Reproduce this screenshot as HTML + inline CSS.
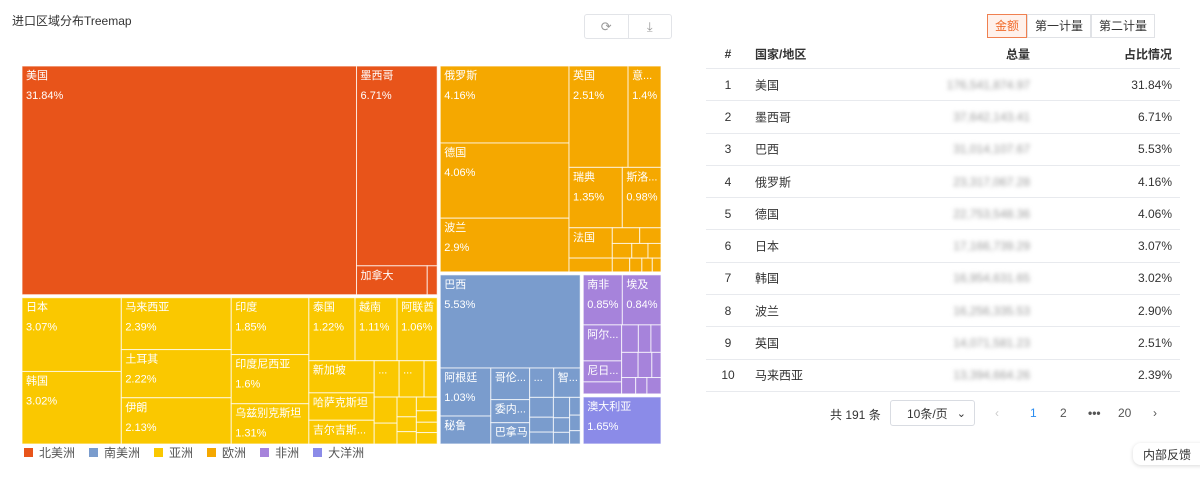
<!DOCTYPE html>
<html><head><meta charset="utf-8">
<style>
*{box-sizing:border-box;margin:0;padding:0}
body{width:1200px;height:479px;background:#fff;font-family:"Liberation Sans","Noto Sans CJK SC",sans-serif;position:relative;overflow:hidden;color:#333}
.abs{position:absolute}
.title{left:12px;top:12px;font-size:12px;color:#333}
.tbtns{left:584px;top:14px;width:88px;height:25px;border:1px solid #e2e4e8;border-radius:3px;display:flex}
.tbtns div{flex:1;display:flex;align-items:center;justify-content:center;color:#999;font-size:13px}
.tbtns div:first-child{border-right:1px solid #e2e4e8}
.legend{left:24px;top:444px;font-size:12px;color:#555;display:flex;gap:0}
.legend span.it{display:flex;align-items:center;margin-right:14px}
.legend i{display:inline-block;width:9px;height:9px;margin-right:6px}
.seg{left:987px;top:14px;height:24px;display:flex;font-size:12px}
.seg div{border:1px solid #e0e2e6;padding:0 7px;line-height:22px;color:#333;background:#fff}
.seg div.on{border-color:#f08050;color:#f06a2a;background:#fff1eb}
.tbl{left:706px;top:40px;width:474px;font-size:12px}
.row{position:relative;height:32.3px;border-bottom:1px solid #e8eaee}
.row span{position:absolute;top:50%;transform:translateY(-50%)}
.c1{left:14px;width:16px;text-align:center}
.c2{left:49px}
.c3{right:150px;color:#999;filter:blur(2px)}
.c4{right:8px}
.hdr{font-weight:bold;height:29px}
.pg{top:402px;left:830px;font-size:12px;color:#333;height:24px;display:flex;align-items:center}
.sel{left:890px;top:400px;width:85px;height:26px;border:1px solid #d9dce2;border-radius:3px;font-size:12px;display:flex;align-items:center;padding-left:16px}
.pnum{top:406px;font-size:12px;color:#555}
.fb{left:1133px;top:443px;width:70px;height:22px;border-radius:8px 0 0 8px;box-shadow:0 1px 4px rgba(0,0,0,.15);font-size:12px;display:flex;align-items:center;padding-left:10px;background:#fff}
</style></head><body>
<div class="abs title">进口区域分布Treemap</div>
<div class="abs tbtns">
 <div>⟳</div>
 <div>⤓</div>
</div>
<svg class="abs" style="left:0;top:0" width="700" height="479" id="tm"></svg>
<div class="abs legend">
 <span class="it"><i style="background:#e8541a"></i>北美洲</span>
 <span class="it"><i style="background:#7a9ccd"></i>南美洲</span>
 <span class="it"><i style="background:#fac800"></i>亚洲</span>
 <span class="it"><i style="background:#f5a800"></i>欧洲</span>
 <span class="it"><i style="background:#a683db"></i>非洲</span>
 <span class="it"><i style="background:#8b8be8"></i>大洋洲</span>
</div>

<div class="abs seg">
 <div class="on">金额</div>
 <div>第一计量</div>
 <div>第二计量</div>
</div>
<div class="abs tbl" id="tbl">
 <div class="row hdr">
  <span class="c1">#</span><span class="c2">国家/地区</span><span style="right:150px">总量</span><span class="c4">占比情况</span>
 </div>
</div>
<div class="abs pg">共 191 条</div>
<div class="abs sel">10条/页<span style="position:absolute;right:8px;font-size:11px">⌄</span></div>
<div class="abs pnum" style="left:995px;color:#ccc">‹</div>
<div class="abs pnum" style="left:1030px;color:#2a8cf0">1</div>
<div class="abs pnum" style="left:1060px">2</div>
<div class="abs pnum" style="left:1088px;font-weight:bold">•••</div>
<div class="abs pnum" style="left:1118px">20</div>
<div class="abs pnum" style="left:1153px">›</div>
<div class="abs fb">内部反馈</div>

<script>
function L(n,v){return {n:n,v:v};}
const northAmerica=[L('美国',31.84),[L('墨西哥',6.71),[L('加拿大',0.85),L('',0.12)]]];
const asia=[[L('日本',3.07),L('韩国',3.02)],[L('马来西亚',2.39),L('土耳其',2.22),L('伊朗',2.13)],[L('印度',1.85),L('印度尼西亚',1.6),L('乌兹别克斯坦',1.31)],
 [[L('泰国',1.22),L('越南',1.11),L('阿联酋',1.06)],[[L('新加坡',0.88),L('哈萨克斯坦',0.75),L('吉尔吉斯斯坦',0.65)],
  [[L('菲律宾',0.38),L('中国',0.38),L('',0.2)],[[L('',0.25),L('',0.2)],[L('',0.16),L('',0.12),L('',0.1)],[L('',0.12),L('',0.1),L('',0.09),L('',0.1)]]]]]];
const europe=[[L('俄罗斯',4.16),L('德国',4.06),L('波兰',2.9)],[[L('英国',2.51),L('意大利',1.4)],[L('瑞典',1.35),L('斯洛伐克',0.98)],
 [[L('法国',0.55),L('',0.25)],[[L('',0.18),L('',0.14)],[L('',0.12),L('',0.1),L('',0.08)],[L('',0.1),L('',0.07),L('',0.06),L('',0.05)]]]]];
const southAmerica=[L('巴西',5.53),[[L('阿根廷',1.03),L('秘鲁',0.6)],[L('哥伦比亚',0.52),L('委内瑞拉',0.38),L('巴拿马',0.35)],
 [[L('厄瓜多尔',0.3),L('智利',0.33)],[[L('',0.2),L('',0.15),L('',0.12)],[L('',0.14),L('',0.1),L('',0.08)],[L('',0.08),L('',0.07),L('',0.06)]]]]];
const africa=[[L('南非',0.85),L('埃及',0.84)],[[L('阿尔及利亚',0.6),L('尼日利亚',0.35),L('',0.2)],[[L('',0.2),L('',0.15),L('',0.12)],[L('',0.18),L('',0.15),L('',0.1)],[L('',0.1),L('',0.08),L('',0.1)]]]];
const oceania=[L('澳大利亚',1.65)];
const regionColors=['#e8541a','#fac800','#f5a800','#7a9ccd','#a683db','#8b8be8'];
const regions=[northAmerica,asia,europe,southAmerica,africa,oceania];
const regionDir=[0,0,0,1,1,1];
// top-level arrangement: [[NA, Asia], [Europe, [SA, [Africa, Oceania]]]]
const root=[[0,1],[2,[3,[4,5]]]];

const NS='http://www.w3.org/2000/svg';
const svg=document.getElementById('tm');
const X0=22,Y0=66,W=639,H=378;
function sum(n){if(typeof n==='number')return sum(regions[n]);if(Array.isArray(n))return n.reduce((a,c)=>a+sum(c),0);return n.v;}
function split(items,x,y,w,h,dir,cb){
  const tot=sum(items);let off=0;
  items.forEach(c=>{const f=sum(c)/tot;
    if(dir===0){cb(c,x+off,y,w*f,h);off+=w*f;} else {cb(c,x,y+off,w,h*f);off+=h*f;}});
}
function tw(s){let t=0;for(const ch of s)t+=ch==='.'?3:(/[\x00-\x7f]/.test(ch)?5.8:10.5);return t;}
function fit(s,maxw){if(tw(s)<=maxw)return s;let r='';for(const ch of s){if(tw(r+ch+'...')>maxw)break;r+=ch;}return r+'...';}
function txt(s,x,y,name){const t=document.createElementNS(NS,'text');t.setAttribute('x',x);t.setAttribute('y',y);t.setAttribute('fill','#fff');t.setAttribute('font-size','11');t.textContent=s;
  
  
  svg.appendChild(t);}
function drawLeaf(l,x,y,w,h,col){
  const r=document.createElementNS(NS,'rect');r.setAttribute('x',x);r.setAttribute('y',y);r.setAttribute('width',w);r.setAttribute('height',h);
  r.setAttribute('fill',col);r.setAttribute('stroke','#fff');r.setAttribute('stroke-opacity','0.75');r.setAttribute('stroke-width','1');
  
  
  svg.appendChild(r);
  if(l.n&&w>18&&h>16){txt(fit(l.n,w-7),x+4,y+13,'cell-label');
    if(h>40)txt(fit(l.v+'%',w-7),x+4,y+33,'cell-value');}
}
function drawNode(n,x,y,w,h,dir,col){
  if(Array.isArray(n))split(n,x,y,w,h,dir,(c,a,b,cw,ch)=>drawNode(c,a,b,cw,ch,1-dir,col));
  else drawLeaf(n,x,y,w,h,col);
}
function drawTop(n,x,y,w,h,dir){
  if(typeof n==='number'){
    drawNode(regions[n],x+1.5,y+1.5,w-3,h-3,regionDir[n],regionColors[n]);
  } else split(n,x,y,w,h,dir,(c,a,b,cw,ch)=>drawTop(c,a,b,cw,ch,1-dir));
}
drawTop(root,X0-1.5,Y0-1.5,W+3,H+3,0);

const tRank=[1,2,3,4,5,6,7,8,9,10];
const tNames=['美国','墨西哥','巴西','俄罗斯','德国','日本','韩国','波兰','英国','马来西亚'];
const tTotals=['176,541,874.97','37,642,143.41','31,014,107.67','23,317,067.28','22,753,548.36','17,166,739.29','16,954,631.65','16,256,335.53','14,071,581.23','13,394,664.26'];
const tShare=['31.84%','6.71%','5.53%','4.16%','4.06%','3.07%','3.02%','2.90%','2.51%','2.39%'];
const tbl=document.getElementById('tbl');
tRank.forEach((r,i)=>{const d=document.createElement('div');d.className='row';
  
  
  d.innerHTML='<span class="c1">'+r+'</span><span class="c2">'+tNames[i]+'</span><span class="c3">'+tTotals[i]+'</span><span class="c4">'+tShare[i]+'</span>';
  tbl.appendChild(d);});
</script>
</body></html>
